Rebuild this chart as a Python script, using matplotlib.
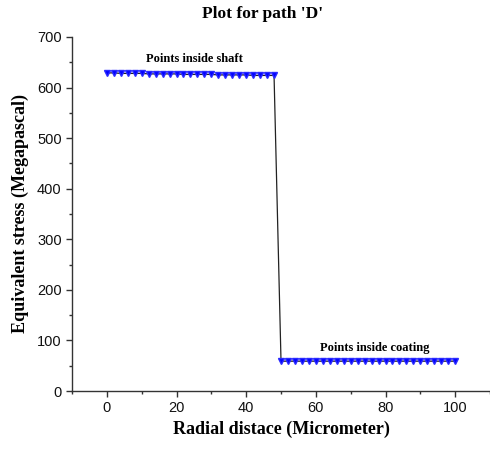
import numpy as np
import matplotlib.pyplot as plt
from matplotlib.ticker import MultipleLocator

# radial positions (micrometer) and equivalent stress (MPa) along path D
shaft_x = [0, 2, 4, 6, 8, 10, 12, 14, 16, 18, 20, 22, 24, 26, 28, 30,
           32, 34, 36, 38, 40, 42, 44, 46, 48]
shaft_y = [629, 629, 628, 628, 628, 628, 627, 627, 627, 627, 627, 626, 626,
           626, 626, 626, 625, 625, 625, 625, 625, 624, 624, 624, 624]
coat_x = [50, 52, 54, 56, 58, 60, 62, 64, 66, 68, 70, 72, 74, 76, 78, 80,
          82, 84, 86, 88, 90, 92, 94, 96, 98, 100]
coat_y = [59, 59, 59, 59, 59, 59, 59, 59, 59, 59, 59, 59, 59, 59, 59, 59,
          59, 59, 59, 59, 59, 59, 59, 59, 59, 59]

x = shaft_x + coat_x
y = shaft_y + coat_y

serif = ['Liberation Serif', 'DejaVu Serif']
sans = ['Liberation Sans', 'DejaVu Sans']

fig = plt.figure(figsize=(4.9, 4.51), dpi=100)
ax = fig.add_axes([0.147, 0.133, 0.853, 0.785])

ax.plot(x, y, color='#222222', lw=0.9, zorder=2)
ax.plot(x, y, ls='none', marker='v', ms=5, mew=1.0,
        mfc='blue', mec='#2a2aff', zorder=3)

ax.set_xlim(-10, 110)
ax.set_ylim(0, 700)
ax.xaxis.set_major_locator(MultipleLocator(20))
ax.xaxis.set_minor_locator(MultipleLocator(10))
ax.yaxis.set_major_locator(MultipleLocator(100))
ax.yaxis.set_minor_locator(MultipleLocator(50))

for s in ['top', 'right']:
    ax.spines[s].set_visible(False)
for s in ['left', 'bottom']:
    ax.spines[s].set_linewidth(1.0)
    ax.spines[s].set_color('#333333')

ax.tick_params(which='major', direction='out', length=4, width=1,
               colors='#333333', labelsize=10.5, labelcolor='#111111')
ax.tick_params(which='minor', direction='out', length=2.5, width=1,
               colors='#333333')
for lbl in ax.get_xticklabels() + ax.get_yticklabels():
    lbl.set_family(sans)

ax.set_xlabel('Radial distace (Micrometer)', family=serif,
              fontweight='bold', fontsize=13, labelpad=4)
ax.set_ylabel('Equivalent stress (Megapascal)', family=serif,
              fontweight='bold', fontsize=13, labelpad=6)
fig.text(0.535, 0.968, "Plot for path 'D'", family=serif, fontweight='bold',
         fontsize=12.5, ha='center', va='center')

ax.text(25, 645, 'Points inside shaft', family=serif, fontweight='bold',
        fontsize=9, ha='center', va='bottom')
ax.text(77, 73, 'Points inside coating', family=serif, fontweight='bold',
        fontsize=9, ha='center', va='bottom')

fig.savefig('out.png', dpi=100)
